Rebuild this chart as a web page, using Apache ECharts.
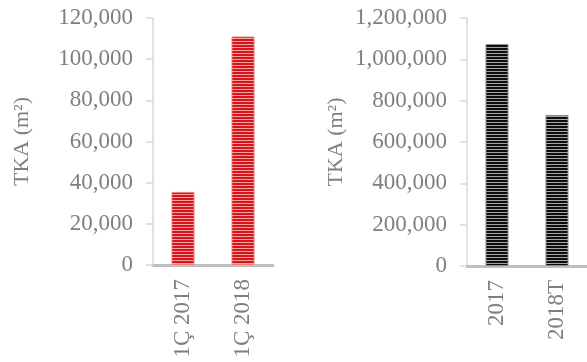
<!DOCTYPE html>
<html>
<head>
<meta charset="utf-8">
<script src="https://cdn.jsdelivr.net/npm/echarts@6/dist/echarts.min.js"></script>
<style>
  html, body { margin: 0; padding: 0; background: #ffffff; }
  #chart { width: 587px; height: 362px; }
</style>
</head>
<body>
<div id="chart"></div>
<script>
  // left panel: quarterly
  const leftCategories = ['1Ç 2017', '1Ç 2018'];
  const leftValues = [35500, 111000];
  const leftTicks = {min: 0, max: 120000, interval: 20000};

  // right panel: yearly
  const rightCategories = ['2017', '2018T'];
  const rightValues = [1074000, 731000];
  const rightTicks = {min: 0, max: 1200000, interval: 200000};

  const axisName = 'TKA (m²)';
  const font = 'Liberation Serif, Times New Roman, serif';
  const textGray = '#7f7f7f';

  // horizontal stripes for the bars
  function stripes(dark, light) {
    const c = document.createElement('canvas');
    c.width = 4;
    c.height = 3;
    const ctx = c.getContext('2d');
    ctx.fillStyle = dark;
    ctx.fillRect(0, 0, 4, 3);
    ctx.fillStyle = light;
    ctx.fillRect(0, 2, 4, 1);
    return {image: c, repeat: 'repeat'};
  }

  function fmt(v) {
    return v.toLocaleString('en-US');
  }

  function yAxisFor(idx, ticks) {
    return {
      type: 'value',
      gridIndex: idx,
      min: ticks.min,
      max: ticks.max,
      interval: ticks.interval,
      name: axisName,
      nameLocation: 'middle',
      nameGap: 120,
      nameTextStyle: {color: textGray, fontFamily: font, fontSize: 22},
      axisLine: {show: true, lineStyle: {color: '#d9d9d9', width: 1.5}},
      axisTick: {show: true, length: 7, lineStyle: {color: '#d9d9d9', width: 1.5}},
      axisLabel: {color: textGray, fontFamily: font, fontSize: 23, margin: 20, formatter: fmt},
      splitLine: {show: false}
    };
  }

  function xAxisFor(idx, cats) {
    return {
      type: 'category',
      gridIndex: idx,
      data: cats,
      axisLine: {show: true, lineStyle: {color: '#bfbfbf', width: 3}},
      axisTick: {show: false},
      axisLabel: {color: textGray, fontFamily: font, fontSize: 23, rotate: 90, margin: 14, interval: 0}
    };
  }

  const myChart = echarts.init(document.getElementById('chart'), null, {renderer: 'canvas'});
  myChart.setOption({
    animation: false,
    backgroundColor: '#ffffff',
    grid: [
      {left: 153, top: 18, width: 120, bottom: 97},
      {left: 467, top: 18, width: 120, bottom: 96}
    ],
    xAxis: [xAxisFor(0, leftCategories), xAxisFor(1, rightCategories)],
    yAxis: [yAxisFor(0, leftTicks), yAxisFor(1, rightTicks)],
    series: [
      {
        type: 'bar',
        xAxisIndex: 0,
        yAxisIndex: 0,
        data: leftValues,
        barWidth: 23,
        itemStyle: {color: stripes('#d7141c', '#f2a4a4'), borderColor: '#ef7b7b', borderWidth: 1}
      },
      {
        type: 'bar',
        xAxisIndex: 1,
        yAxisIndex: 1,
        data: rightValues,
        barWidth: 23,
        itemStyle: {color: stripes('#0d0d0d', '#a6a6a6'), borderColor: '#8c8c8c', borderWidth: 1}
      }
    ]
  });
</script>
</body>
</html>
